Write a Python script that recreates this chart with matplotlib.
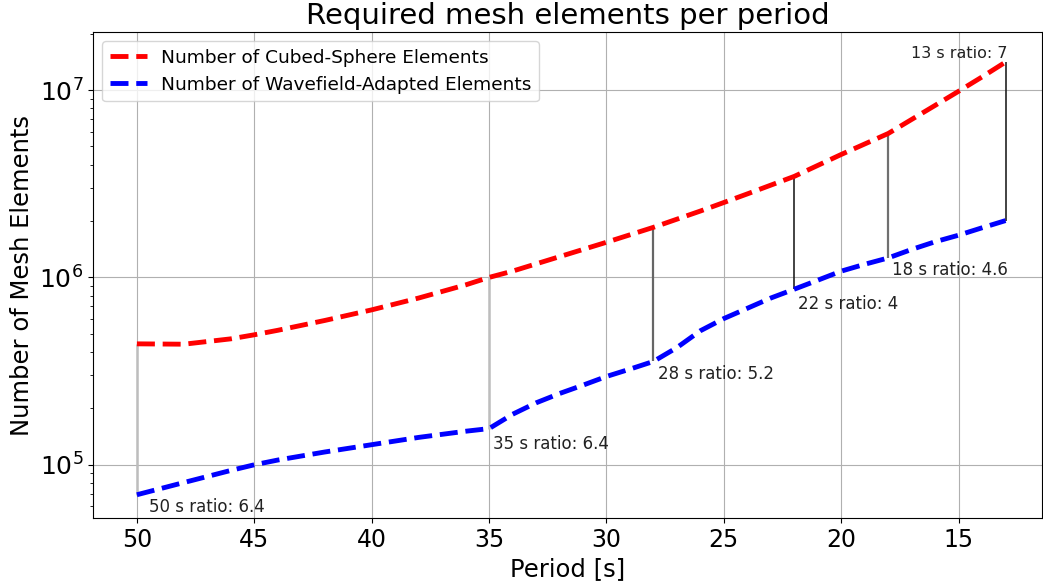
import numpy as np
import matplotlib
matplotlib.use('Agg')
import matplotlib.pyplot as plt

# ── Element counts per period ─────────────────────────────────────────────────
periods_cs = [50, 48, 46, 45, 44, 42, 40, 38, 36, 35, 34, 32, 30, 28, 26, 25,
              24, 22, 20, 18, 16, 15, 14, 13]
cubed_sphere = [442e3, 440e3, 470e3, 494e3, 522e3, 589e3, 671e3, 776e3, 912e3,
                1.0e6, 1.08e6, 1.29e6, 1.54e6, 1.85e6, 2.26e6, 2.51e6, 2.79e6,
                3.46e6, 4.53e6, 5.86e6, 8.28e6, 9.85e6, 11.75e6, 14.1e6]

periods_wa = [50, 48, 46, 45, 44, 42, 40, 38, 36, 35, 34, 33, 32, 31, 30, 29,
              28, 27, 26, 25, 24, 23, 22, 21, 20, 19, 18, 17, 16, 15, 14, 13]
wavefield = [69.2e3, 80.4e3, 93.3e3, 100e3, 106e3, 117e3, 128e3, 140e3, 151e3,
             156e3, 186e3, 214e3, 240e3, 266e3, 296e3, 324e3, 356e3, 422e3,
             519e3, 603e3, 684e3, 776e3, 865e3, 966e3, 1.08e6, 1.175e6, 1.27e6,
             1.41e6, 1.55e6, 1.68e6, 1.84e6, 2.01e6]

# periods where the element ratio is marked
ratio_periods = [50, 35, 28, 22, 18, 13]
ratios = [6.4, 6.4, 5.2, 4, 4.6, 7]
ratio_colors = ['#bdbdbd', '#bdbdbd', '#666666', '#222222', '#707070', '#222222']
ratio_widths = [1.8, 1.8, 1.6, 1.2, 1.6, 1.2]
# label offsets in points (x, y)
label_offsets = [(9, -2), (3, -4.5), (3, -2.5), (3, -4.5), (3, -2.5), (1.5, 1)]

# ── Figure ────────────────────────────────────────────────────────────────────
fig, ax = plt.subplots(figsize=(10.43, 5.84), dpi=100)
fig.subplots_adjust(left=93/1043, right=0.999, top=1 - 32/584, bottom=1 - 518/584)

ax.plot(periods_cs, cubed_sphere, color='red', lw=3.5, ls='--',
        label='Number of Cubed-Sphere Elements', zorder=3)
ax.plot(periods_wa, wavefield, color='blue', lw=3.5, ls='--',
        label='Number of Wavefield-Adapted Elements', zorder=3)

cs_lookup = dict(zip(periods_cs, cubed_sphere))
wa_lookup = dict(zip(periods_wa, wavefield))
for p, r, c, w, off in zip(ratio_periods, ratios, ratio_colors, ratio_widths,
                           label_offsets):
    top, bottom = cs_lookup[p], wa_lookup[p]
    ax.vlines(p, bottom, top, color=c, lw=w, zorder=2)
    if p == 13:
        # last label sits above the curve, right-aligned to the line
        ax.annotate(f'{p} s ratio: {r:g}', (p, top), xytext=off,
                    textcoords='offset points', ha='right', va='bottom',
                    fontsize=11.5, color='#222222')
    else:
        ax.annotate(f'{p} s ratio: {r:g}', (p, bottom), xytext=off,
                    textcoords='offset points', ha='left', va='top',
                    fontsize=12, color='#222222')

ax.set_yscale('log')
ax.set_xlim(51.87, 11.45)
ax.set_ylim(5.2e4, 2.04e7)
ax.set_xticks([50, 45, 40, 35, 30, 25, 20, 15])
ax.tick_params(axis='x', labelsize=17)
ax.tick_params(axis='y', labelsize=18)
ax.grid(True, which='major', color='#b0b0b0', lw=0.8)

ax.set_xlabel('Period [s]', fontsize=17.5)
ax.set_ylabel('Number of Mesh Elements', fontsize=17.5)
ax.set_title('Required mesh elements per period', fontsize=21)
ax.legend(loc='upper left', fontsize=13.3)

plt.savefig('out.png', dpi=100)
plt.close()
